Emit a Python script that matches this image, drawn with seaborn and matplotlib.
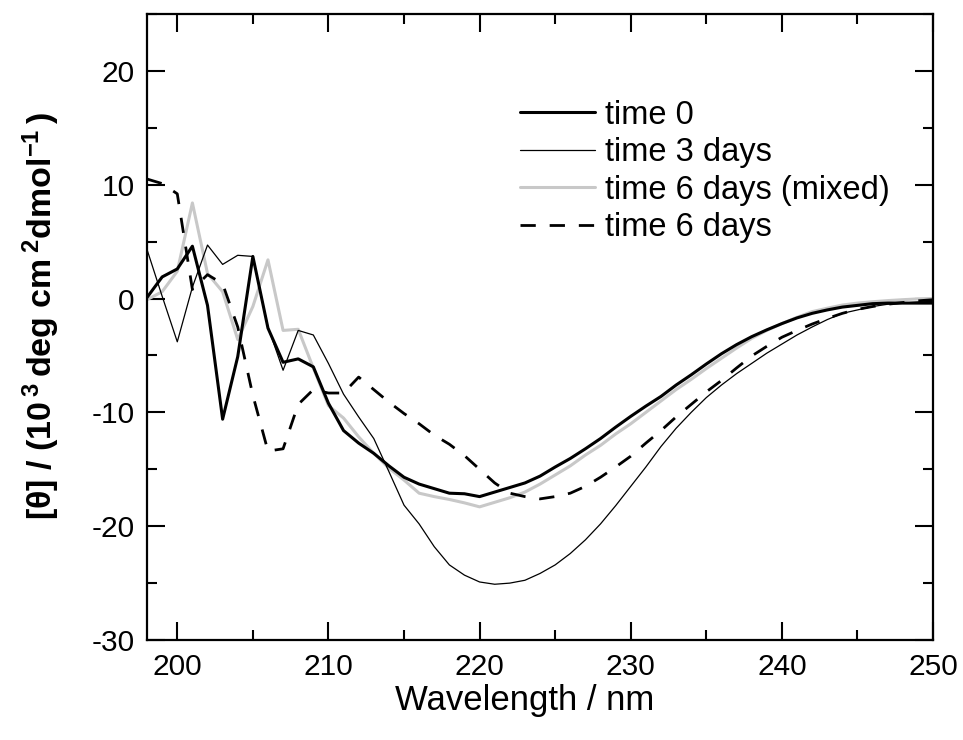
import numpy as np
import pandas as pd
import matplotlib
matplotlib.use("Agg")
import matplotlib.pyplot as plt
import seaborn as sns
from matplotlib.ticker import MultipleLocator
from matplotlib.lines import Line2D

# ---------------- data ----------------
wavelength = list(range(198, 251))

time0 = [0.1, 1.9, 2.6, 4.6, -0.6, -10.6, -5.1, 3.7, -2.6, -5.6,
         -5.3, -6.0, -9.2, -11.6, -12.7, -13.6, -14.7, -15.7, -16.3, -16.7,
         -17.1, -17.15, -17.4, -17.0, -16.6, -16.2, -15.6, -14.8, -14.05, -13.2,
         -12.3, -11.3, -10.35, -9.45, -8.6, -7.6, -6.7, -5.75, -4.85, -4.05,
         -3.35, -2.75, -2.2, -1.7, -1.3, -1.0, -0.75, -0.6, -0.45, -0.4,
         -0.4, -0.4, -0.4]

time3 = [4.3, 0.2, -3.8, 1.0, 4.7, 3.0, 3.8, 3.7, -2.5, -6.3,
         -2.8, -3.2, -5.7, -8.4, -10.4, -12.3, -15.2, -18.15, -19.8, -21.8,
         -23.4, -24.3, -24.9, -25.1, -25.0, -24.75, -24.15, -23.4, -22.4, -21.2,
         -19.8, -18.2, -16.5, -14.8, -13.0, -11.4, -10.0, -8.7, -7.6, -6.6,
         -5.7, -4.8, -4.0, -3.2, -2.5, -1.85, -1.3, -1.0, -0.7, -0.5,
         -0.4, -0.3, -0.25]

time6_mixed = [-0.1, 0.6, 2.4, 8.4, 2.2, 0.6, -3.6, -0.7, 3.4, -2.8,
               -2.7, -6.1, -9.4, -10.5, -12.15, -13.6, -14.9, -15.95, -17.1, -17.4,
               -17.65, -17.95, -18.3, -17.9, -17.5, -17.0, -16.3, -15.5, -14.7, -13.75,
               -12.9, -11.9, -11.0, -10.0, -9.0, -8.0, -7.1, -6.15, -5.25, -4.35,
               -3.5, -2.8, -2.2, -1.65, -1.15, -0.85, -0.57, -0.4, -0.28, -0.18,
               -0.1, -0.03, 0.0]

time6 = [10.5, 10.1, 9.2, 0.8, 2.1, 1.3, -2.5, -8.5, -13.4, -13.2,
         -9.3, -8.0, -8.3, -8.3, -6.9, -8.0, -9.1, -10.1, -11.0, -12.0,
         -12.8, -13.8, -15.0, -16.2, -17.1, -17.4, -17.6, -17.4, -17.1, -16.5,
         -15.7, -14.8, -13.85, -12.7, -11.6, -10.4, -9.3, -8.2, -7.2, -6.1,
         -5.05, -4.2, -3.4, -2.8, -2.24, -1.75, -1.3, -0.95, -0.7, -0.5,
         -0.35, -0.2, -0.1]

series_labels = ["time 0", "time 3 days", "time 6 days (mixed)", "time 6 days"]
xticks = [200, 210, 220, 230, 240, 250]
yticks = [-30, -20, -10, 0, 10, 20]

df = pd.DataFrame({"wavelength": wavelength,
                   series_labels[0]: time0,
                   series_labels[1]: time3,
                   series_labels[2]: time6_mixed,
                   series_labels[3]: time6})
long = df.melt(id_vars="wavelength", var_name="series", value_name="theta")

# ---------------- style ----------------
sns.set_style("ticks")
plt.rcParams["font.family"] = ["Liberation Sans", "DejaVu Sans"]
plt.rcParams["axes.unicode_minus"] = False
plt.rcParams["text.color"] = "black"
plt.rcParams["axes.labelcolor"] = "black"
plt.rcParams["xtick.color"] = "black"
plt.rcParams["ytick.color"] = "black"
plt.rcParams["mathtext.fontset"] = "custom"
plt.rcParams["mathtext.rm"] = "Liberation Sans:bold"
plt.rcParams["mathtext.it"] = "Liberation Sans:bold"
plt.rcParams["mathtext.bf"] = "Liberation Sans:bold"

fig = plt.figure(figsize=(9.63, 7.4), dpi=100)
ax = fig.add_axes([0.1527, 0.1351, 0.8162, 0.8460])

styles = {
    "time 0": dict(color="black", linewidth=2.2, linestyle="-", zorder=4),
    "time 3 days": dict(color="black", linewidth=0.9, linestyle="-", zorder=3),
    "time 6 days (mixed)": dict(color="#c8c8c8", linewidth=2.2, linestyle="-", zorder=2),
    "time 6 days": dict(color="black", linewidth=2.0, linestyle=(0, (5.5, 5.0)), zorder=3.5),
}

for lab in series_labels:
    sub = long[long["series"] == lab]
    sns.lineplot(data=sub, x="wavelength", y="theta", ax=ax, legend=False,
                 **styles[lab])

ax.set_xlim(198, 250)
ax.set_ylim(-30, 25)
ax.set_xticks(xticks)
ax.set_yticks(yticks)
ax.xaxis.set_minor_locator(MultipleLocator(5))
ax.yaxis.set_minor_locator(MultipleLocator(5))
ax.tick_params(which="both", direction="in", top=True, right=True, width=1.5,
               labelsize=21.5, pad=9, colors="black")
ax.tick_params(which="major", length=13)
ax.tick_params(which="minor", length=7)
for sp in ax.spines.values():
    sp.set_linewidth(1.6)
    sp.set_color("black")

ax.set_xlabel("Wavelength / nm", fontsize=25, color="black")
ax.xaxis.set_label_coords(0.48, -0.07, transform=ax.transAxes)
ax.xaxis.label.set_verticalalignment("top")
ax.set_ylabel(r"[$\theta$] / (10$\,^{3}\,$deg cm$\,^{2}$dmol$^{-1}\,$)",
              fontsize=24.5, fontweight="bold", color="black")
ax.yaxis.set_label_coords(-0.108, 0.517, transform=ax.transAxes)

handles = [Line2D([], [], color=styles[l]["color"], linewidth=styles[l]["linewidth"],
                  linestyle=styles[l]["linestyle"]) for l in series_labels]
leg = ax.legend(handles, series_labels, loc="upper left", bbox_to_anchor=(0.4746, 0.863),
                frameon=False, fontsize=23.5, handlelength=2.3, handletextpad=0.3,
                labelspacing=0.2, borderpad=0, borderaxespad=0)
for t in leg.get_texts():
    t.set_color("black")

fig.savefig("out.png", dpi=100)
